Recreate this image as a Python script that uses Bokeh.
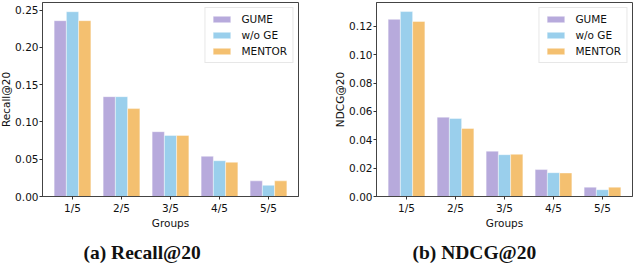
from bokeh.plotting import figure
from bokeh.layouts import row
from bokeh.models import Range1d, FixedTicker, Legend, LegendItem, Title, ColumnDataSource, NumeralTickFormatter
from bokeh.transform import dodge
from bokeh.embed import file_html
from bokeh.resources import INLINE

groups = ["1/5", "2/5", "3/5", "4/5", "5/5"]
methods = ["GUME", "w/o GE", "MENTOR"]
colors = ["#b7aadc", "#9acfec", "#f4c070"]

recall_gume = [0.236, 0.134, 0.087, 0.054, 0.021]
recall_wo_ge = [0.248, 0.134, 0.082, 0.048, 0.015]
recall_mentor = [0.236, 0.118, 0.082, 0.046, 0.021]

ndcg_gume = [0.125, 0.056, 0.032, 0.019, 0.0066]
ndcg_wo_ge = [0.1305, 0.055, 0.0295, 0.0168, 0.0048]
ndcg_mentor = [0.1235, 0.048, 0.0298, 0.0166, 0.0066]

recall_ticks = [0.0, 0.05, 0.10, 0.15, 0.20, 0.25]
ndcg_ticks = [0.0, 0.02, 0.04, 0.06, 0.08, 0.10, 0.12]

FONT = "DejaVu Sans"
FS = "10.5px"


def make_plot(series, ylabel, yticks, ymax, caption, width, border_left, border_right, cap_off, styles):
    idx = list(range(len(groups)))
    data = {"x": idx}
    for m, s in zip(methods, series):
        data[m] = s
    src = ColumnDataSource(data)
    p = figure(width=width, height=270, output_backend="svg", toolbar_location=None,
               x_range=Range1d(-0.6125, 4.6125), y_range=Range1d(0, ymax),
               min_border_left=border_left, min_border_right=border_right,
               min_border_top=2, min_border_bottom=10, styles=styles)
    items = []
    offs = [-0.25, 0.0, 0.25]
    for m, c, o in zip(methods, colors, offs):
        r = p.vbar(x=dodge("x", o), top=m, width=0.25, source=src, fill_color=c,
                   line_color="white", line_width=0.6, line_alpha=0.7)
        items.append(LegendItem(label=m, renderers=[r]))
    p.xgrid.visible = False
    p.ygrid.visible = False
    p.outline_line_color = "#444444"
    p.outline_line_width = 1
    p.outline_line_alpha = 1
    p.background_fill_color = "white"
    p.border_fill_color = "white"

    xa = p.xaxis[0]
    xa.ticker = FixedTicker(ticks=idx)
    xa.major_label_overrides = {i: g for i, g in enumerate(groups)}
    xa.axis_label = "Groups"
    ya = p.yaxis[0]
    ya.ticker = FixedTicker(ticks=yticks)
    ya.formatter = NumeralTickFormatter(format="0.00")
    ya.axis_label = ylabel
    for ax in (xa, ya):
        ax.minor_tick_line_color = None
        ax.major_tick_out = 3
        ax.major_tick_in = 0
        ax.major_tick_line_color = "#333333"
        ax.axis_line_color = "#444444"
        ax.major_label_text_font = FONT
        ax.major_label_text_font_size = FS
        ax.major_label_text_color = "#111111"
        ax.axis_label_text_font = FONT
        ax.axis_label_text_font_size = FS
        ax.axis_label_text_font_style = "normal"
        ax.axis_label_text_color = "#111111"
        ax.axis_label_standoff = 0
    xa.major_label_standoff = 2
    ya.major_label_standoff = 1

    leg = Legend(items=items, location="top_right")
    leg.label_text_font = FONT
    leg.label_text_font_size = FS
    leg.label_text_color = "#111111"
    leg.glyph_width = 22
    leg.glyph_height = 8
    leg.label_height = 12
    leg.label_standoff = 9
    leg.spacing = 4
    leg.padding = 5
    leg.margin = 5
    leg.border_line_color = "#d0d0d0"
    leg.border_line_width = 1
    leg.background_fill_alpha = 0.9
    p.add_layout(leg)

    cap = Title(text=caption, align="left", offset=cap_off, standoff=16,
                text_font="Liberation Serif", text_font_style="bold", text_font_size="19.5px",
                text_color="#111111")
    p.add_layout(cap, "below")
    return p


p1 = make_plot([recall_gume, recall_wo_ge, recall_mentor], "Recall@20", recall_ticks, 0.2604,
               "(a) Recall@20", 320, 41, 19, 41, {"margin-left": "-3px"})
p2 = make_plot([ndcg_gume, ndcg_wo_ge, ndcg_mentor], "NDCG@20", ndcg_ticks, 0.1369,
               "(b) NDCG@20", 317, 59, 2, 36, {})

layout = row(p1, p2)

open("out.html", "w").write(file_html(layout, INLINE))
